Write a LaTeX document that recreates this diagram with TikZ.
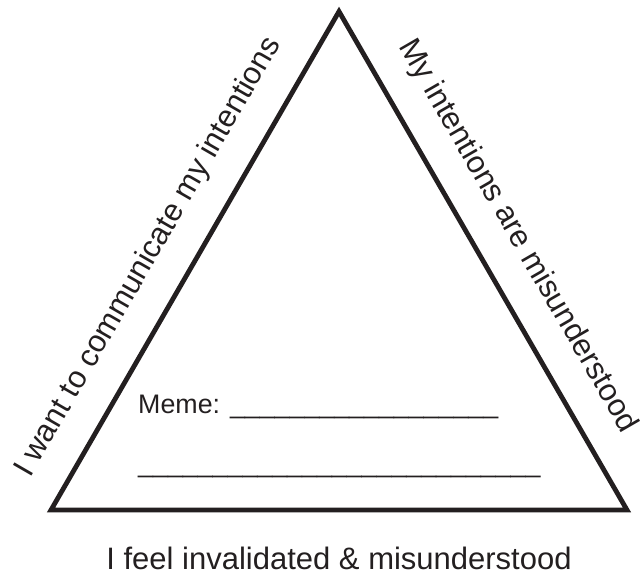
\documentclass[tikz,border=0pt]{standalone}
\usepackage{fontspec}
\setmainfont{Liberation Sans}
\usepackage{tikz}
\usetikzlibrary{calc}
\definecolor{ink}{HTML}{231F20}
\newcommand\blankline[1]{\foreach\k in {1,...,#1}{\_}}

\begin{document}
\begin{tikzpicture}[x=1pt,y=1pt,every node/.style={text=ink,inner sep=0pt},
  side/.style={font=\fontsize{31}{36}\selectfont,anchor=base},
  note/.style={font=\fontsize{26.8}{32}\selectfont,anchor=base west}]
\useasboundingbox (0,0) rectangle (644,573);
\coordinate(A)at(51,63);
\coordinate(B)at(627,63);
\coordinate(C)at(339,561.5);
\draw[ink,line width=4.8pt](A)--(B)--(C)--cycle;
\coordinate(mAC)at($(A)!0.465!(C)$);
\coordinate(mCB)at($(C)!0.493!(B)$);
\node[side,rotate=60](want)at($(mAC)!34pt!90:(C)$){I want to communicate my intentions};
\node[side,rotate=-60](misread)at($(mCB)!34pt!90:(B)$){My intentions are misunderstood};
\node[side](feel)at(339,4){I feel invalidated \& misunderstood};
\node[note](meme)at(138,160){Meme: \blankline{18}};
\node[note](blank)at(138,101){\blankline{27}};
\end{tikzpicture}
\end{document}
